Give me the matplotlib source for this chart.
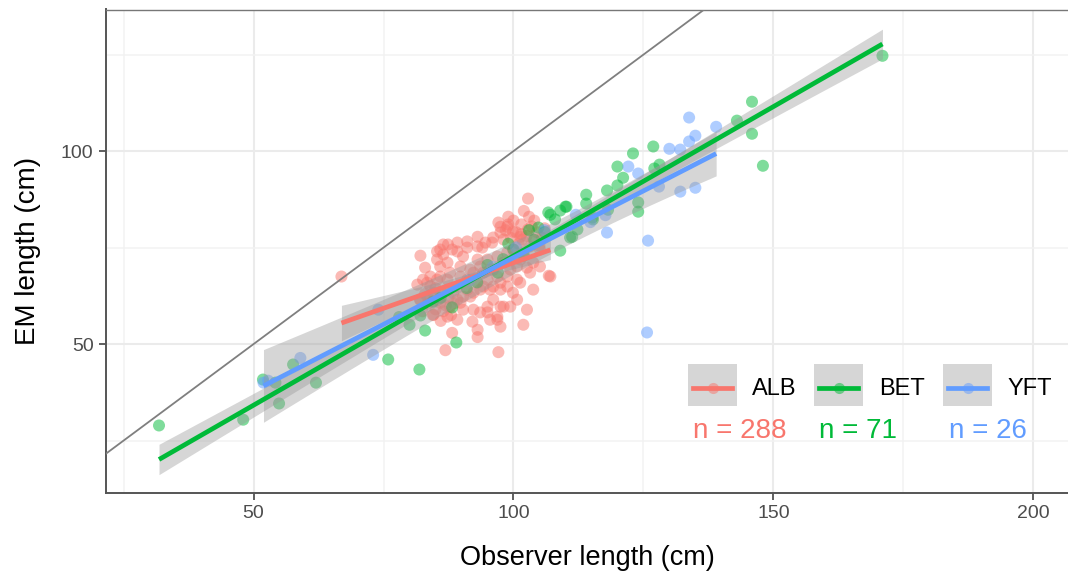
import numpy as np
import matplotlib
matplotlib.use("Agg")
import matplotlib.pyplot as plt
from matplotlib.patches import Rectangle
from matplotlib.lines import Line2D

plt.rcParams['font.family'] = ['Liberation Sans', 'DejaVu Sans']

species = ["ALB", "BET", "YFT"]
colors = ["#F8766D", "#00BA38", "#619CFF"]
counts = [288, 71, 26]

alb_x = [102.8, 99.0, 97.1, 99.9, 97.5, 93.1, 87.4, 85.9, 82.1, 89.2, 91.1, 94.0, 95.9, 101.7,
         103.2, 103.8, 102.6, 107.1, 100.7, 103.8, 101.3, 99.9, 97.5, 96.1, 98.1, 96.9, 95.0,
         92.1, 93.1, 93.1, 88.2, 86.9, 97.1, 101.9, 89.2, 87.3, 84.6, 83.4, 85.9, 87.3, 89.8,
         91.7, 93.6, 95.0, 92.3, 89.8, 87.3, 85.3, 86.5, 88.2, 90.3, 93.1, 95.0, 96.9, 98.8,
         98.1, 96.1, 93.6, 91.1, 89.2, 91.1, 93.1, 95.5, 97.5, 98.8, 100.7, 101.9, 99.9, 98.1,
         96.1, 94.6, 97.5, 98.8, 101.3, 102.8, 103.8, 105.1, 103.2, 105.1, 97.5, 95.0, 92.3,
         90.3, 87.8, 85.9, 89.2, 84.6, 83.4, 85.3, 84.0, 82.6, 85.9, 87.8, 89.8, 91.7, 94.2,
         95.5, 94.2, 92.3, 90.3, 88.4, 87.3, 96.1, 98.8, 99.4, 96.9, 101.3, 93.1, 91.1, 89.2,
         86.5, 85.3, 99.4, 100.7, 93.6, 97.5, 95.5, 102.6, 106.8, 96.9, 66.9, 81.5, 83.0, 82.1,
         82.5, 83.5, 84.0, 85.0, 85.5, 86.0, 84.5, 86.5, 87.0, 83.0, 85.0, 87.5, 88.0, 86.0,
         84.0, 82.0, 88.5,
         99.5, 100.5, 101.5, 102.5, 103.5, 104.5, 105.5, 100.0, 101.0, 103.0, 98.5, 104.0,
         106.0, 102.0, 99.0, 105.0, 101.5]
alb_y = [87.7, 83.0, 81.5, 79.1, 78.9, 77.8, 75.8, 74.5, 72.9, 74.0, 75.0, 75.0, 76.3, 77.1,
         75.3, 71.1, 69.8, 67.5, 66.7, 64.1, 65.9, 63.3, 65.9, 61.5, 59.7, 57.1, 58.2,
         55.8, 53.7, 51.8, 52.9, 48.4, 47.9, 55.0, 56.3, 57.1, 57.6, 65.9, 67.5, 64.1, 60.7,
         62.3, 64.1, 66.7, 68.5, 70.1, 71.1, 71.9, 73.2, 74.5, 72.7, 71.9, 71.9, 72.7, 73.7,
         71.1, 69.3, 70.1, 66.7, 64.9, 64.1, 65.9, 64.1, 64.1, 67.5, 70.1, 72.7, 74.5, 77.1,
         77.6, 76.3, 80.4, 80.4, 77.8, 79.7, 77.1, 74.5, 68.5, 70.1, 59.7, 59.7, 58.9,
         58.9, 59.7, 60.7, 61.5, 63.3, 62.3, 66.7, 67.5, 66.7, 70.1, 68.5, 67.5, 69.3, 68.5,
         69.3, 64.9, 63.3, 62.3, 63.3, 66.7, 64.9, 64.9, 69.3, 67.5, 71.9, 75.3, 76.6, 76.3,
         75.8, 74.0, 59.7, 61.5, 58.2, 54.5, 56.3, 58.9, 67.7, 56.3, 67.5, 65.4, 69.8, 61.5,
         58.5, 60.5, 62.5, 59.0, 61.5, 63.5, 57.5, 58.5, 60.0, 63.0, 64.5, 62.0, 57.5, 56.0,
         65.0, 61.5, 60.5,
         77.5, 79.0, 81.0, 78.0, 80.5, 79.0, 77.5, 82.0, 76.0, 83.0, 79.5, 82.0,
         80.0, 84.5, 81.0, 75.5, 78.5]

bet_x = [31.8, 48.0, 54.9, 51.8, 54.2, 57.6, 62.0, 75.9, 81.9, 83.0, 80.0, 89.0, 88.2, 82.1,
         109.0, 106.7, 110.0, 114.0, 110.9, 104.8, 112.3, 115.3, 145.9, 143.0, 145.9, 148.0,
         126.9, 123.0, 120.0, 121.1, 120.0, 118.0, 114.0, 110.2, 107.1, 118.2, 127.1, 128.1,
         124.0, 124.0, 115.2, 171.0, 108.0, 109.0, 111.3, 95.0, 98.0, 100.0, 102.0, 93.0,
         97.0, 104.0, 91.0, 86.0, 99.0, 103.0, 106.0, 78.0, 84.5]
bet_y = [28.9, 30.4, 34.6, 40.8, 40.0, 44.7, 40.0, 46.0, 43.4, 53.5, 55.0, 50.4, 59.5, 57.4,
         74.2, 84.1, 85.6, 88.7, 77.6, 80.2, 79.7, 82.3, 112.8, 107.9, 104.5, 96.2,
         101.2, 99.4, 96.0, 93.1, 91.1, 89.8, 86.4, 85.6, 83.5, 84.8, 95.5, 96.5,
         86.7, 84.3, 82.8, 124.7, 82.3, 84.6, 77.8, 70.5, 72.0, 74.5, 73.0, 66.0,
         68.5, 77.0, 64.5, 62.0, 76.0, 79.5, 79.0, 57.0, 61.0]

yft_x = [51.9, 52.8, 59.0, 73.0, 74.0, 133.8, 139.0, 135.0, 133.8, 132.1, 130.0, 122.1, 124.0,
         128.0, 132.1, 135.0, 118.0, 125.9, 125.7, 100.5, 106.0, 91.5, 112.0, 114.8, 117.7, 96.0]
yft_y = [40.0, 40.5, 46.4, 47.2, 58.9, 108.7, 106.3, 104.0, 102.5, 100.4, 100.6, 96.0, 94.2,
         90.8, 89.5, 90.5, 78.9, 76.8, 53.0, 75.0, 79.5, 66.5, 83.5, 81.6, 83.4, 70.0]

xs = [np.array(alb_x), np.array(bet_x), np.array(yft_x)]
ys = [np.array(alb_y), np.array(bet_y), np.array(yft_y)]

W, H = 1068, 579
fig = plt.figure(figsize=(W / 100, H / 100), dpi=100)
L, R, T, B = 106, 1068, 9.5, 493
ax = fig.add_axes([L / W, 1 - B / H, (R - L) / W, (B - T) / H])
ax.set_xlim(21.6, 206.7)
ax.set_ylim(11.4, 136.7)

ax.set_xticks([50, 100, 150, 200])
ax.set_xticks([25, 75, 125, 175], minor=True)
ax.set_yticks([50, 100])
ax.set_yticks([25, 75, 125], minor=True)
ax.grid(True, which='major', color='#EBEBEB', lw=1.5, zorder=0)
ax.grid(True, which='minor', color='#F2F2F2', lw=1.1, zorder=0)
ax.set_axisbelow(True)
ax.tick_params(which='minor', length=0)
ax.tick_params(which='major', length=5, width=1.1, color='#333333',
               labelsize=14, labelcolor='#4D4D4D', pad=4)
for s in ['left', 'bottom']:
    ax.spines[s].set_color('#555555')
    ax.spines[s].set_linewidth(1.4)
ax.spines['top'].set_color('#777777')
ax.spines['top'].set_linewidth(1.0)
ax.spines['right'].set_visible(False)

# points
for x, y, c in zip(xs, ys, colors):
    ax.scatter(x, y, s=75, color=c, alpha=0.5, edgecolors='none', zorder=2)


def tval(df):
    return 1.96 + 2.4 / df


# regression smooths (lm with 95% CI)
fits = []
for x, y in zip(xs, ys):
    n = len(x)
    b1, b0 = np.polyfit(x, y, 1)
    xg = np.linspace(x.min(), x.max(), 80)
    yg = b0 + b1 * xg
    res = y - (b0 + b1 * x)
    s = np.sqrt(np.sum(res ** 2) / (n - 2))
    se = s * np.sqrt(1 / n + (xg - x.mean()) ** 2 / np.sum((x - x.mean()) ** 2))
    fits.append((xg, yg, tval(n - 2) * se))
for xg, yg, hw in fits:
    ax.fill_between(xg, yg - hw, yg + hw, color='#999999', alpha=0.4, lw=0, zorder=3)
for (xg, yg, hw), c in zip(fits, colors):
    ax.plot(xg, yg, color=c, lw=3.4, zorder=4, solid_capstyle='butt')

# 1:1 line
ax.axline((0, 0), slope=1, color='#7F7F7F', lw=1.3, zorder=5)

ax.set_xlabel("Observer length (cm)", fontsize=19.5, color='black', labelpad=16)
ax.set_ylabel("EM length (cm)", fontsize=20, color='black', labelpad=14)


def fx(px):
    return px / W


def fy(py):
    return 1 - py / H


# legend
key_left = [688, 814, 943]
lab_left = [752, 879, 1008]
n_left = [693, 819, 949]
for i in range(3):
    kl = key_left[i]
    fig.patches.append(Rectangle((fx(kl), fy(406)), 49 / W, 42 / H,
                                 transform=fig.transFigure, color='#D6D6D6', lw=0, zorder=6))
    fig.lines.append(Line2D([fx(kl + 5), fx(kl + 44)], [fy(388), fy(388)],
                            transform=fig.transFigure, color=colors[i], lw=3.4, zorder=7))
    fig.lines.append(Line2D([fx(kl + 24.5)], [fy(388)], transform=fig.transFigure,
                            marker='o', ms=8, color=colors[i], alpha=0.5, lw=0, zorder=8,
                            markeredgewidth=0))
    fig.text(fx(lab_left[i]), fy(389), species[i], fontsize=17, color='black',
             ha='left', va='center', zorder=9)
    fig.text(fx(n_left[i]), fy(431), f"n = {counts[i]}", fontsize=20, color=colors[i],
             ha='left', va='center', zorder=9)

fig.savefig("out.png", dpi=100)
